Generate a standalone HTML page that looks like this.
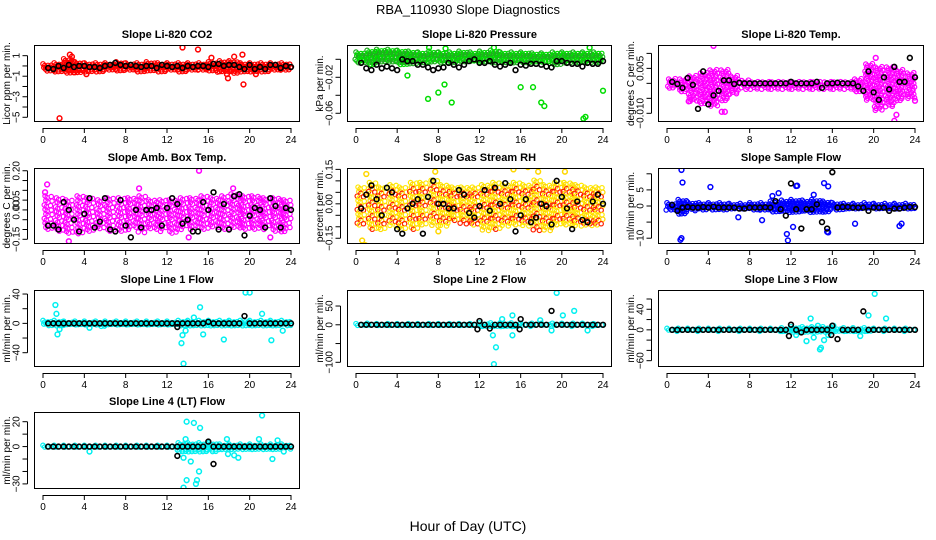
<!DOCTYPE html>
<html><head><meta charset="utf-8"><style>
html,body{margin:0;padding:0;background:#fff;}
svg{display:block;font-family:"Liberation Sans",sans-serif;}
</style></head><body>
<svg id="c" width="936" height="540" viewBox="0 0 936 540">
<text x="468" y="14" text-anchor="middle" font-size="13">RBA_110930  Slope Diagnostics</text>
<text x="468" y="531" text-anchor="middle" font-size="14">Hour of Day (UTC)</text>
</svg>
<script>
const halfHours=[0.5,1,1.5,2,2.5,3,3.5,4,4.5,5,5.5,6,6.5,7,7.5,8,8.5,9,9.5,10,10.5,11,11.5,12,12.5,13,13.5,14,14.5,15,15.5,16,16.5,17,17.5,18,18.5,19,19.5,20,20.5,21,21.5,22,22.5,23,23.5,24];
const xTicks=[0,4,8,12,16,20,24];

const co2Mean=[-0.2,-0.3,0.0,-0.2,0.1,-0.1,0.0,0.0,-0.1,-0.1,-0.2,0.0,0.1,0.3,0.1,0.0,0.1,0.0,-0.1,0.0,0.0,-0.2,0.1,0.0,-0.1,0.0,-0.2,0.0,-0.1,0.0,0.0,-0.1,0.2,0.2,0.0,0.1,0.1,-0.1,-0.3,0.1,-0.3,-0.1,-0.3,0.1,0.1,-0.2,0.0,-0.1];
const co2Lo=[-0.5,-0.6,-0.7,-0.7,-0.6,-0.6,-0.5,-0.6,-0.5,-0.6,-0.5,-0.6,-0.5,-0.6,-0.5,-0.5,-0.6,-0.6,-0.7,-0.7,-0.6,-0.6,-0.5,-0.5];
const co2Hi=[0.2,0.3,0.7,0.4,0.3,0.3,0.3,0.4,0.3,0.3,0.4,0.3,0.3,0.3,0.3,0.3,0.4,0.5,0.5,0.3,0.3,0.3,0.3,0.3];
const co2Out=[[1.6,-5.1],[2.6,1.1],[2.8,0.9],[13.5,1.8],[15,1.6],[17.8,-0.8],[17.9,-1.2],[19.4,-1.8],[19.3,1.1],[18.5,0.9],[20.6,-0.8],[4.2,-0.8],[16.3,0.8]];

const presMean=[-0.004,-0.010,-0.012,-0.006,-0.010,-0.008,-0.010,-0.012,0.000,-0.002,-0.002,-0.006,-0.006,-0.009,-0.012,-0.010,-0.009,-0.004,-0.006,-0.009,-0.006,-0.002,0.000,-0.004,-0.004,-0.002,-0.006,-0.008,-0.006,-0.004,-0.012,-0.006,-0.007,-0.005,-0.005,-0.006,-0.008,-0.009,-0.002,-0.002,-0.004,-0.005,-0.005,-0.008,-0.004,-0.005,-0.005,-0.002];
const presLo=[-0.004,-0.006,-0.004,-0.004,-0.006,-0.005,-0.004,-0.004,-0.004,-0.004,-0.003,-0.003,-0.004,-0.004,-0.004,-0.005,-0.004,-0.004,-0.004,-0.006,-0.004,-0.004,-0.004,-0.004];
const presHi=[0.008,0.010,0.011,0.011,0.010,0.009,0.008,0.009,0.008,0.008,0.009,0.008,0.009,0.010,0.008,0.008,0.008,0.007,0.007,0.008,0.008,0.008,0.008,0.008];
const presOut=[[5,-0.018],[7,-0.044],[8,-0.037],[8.6,-0.028],[9.3,-0.048],[16,-0.031],[17.2,-0.031],[18,-0.048],[18.3,-0.052],[22.1,-0.066],[22.3,-0.064],[24,-0.035],[0.4,0.0],[13.4,0.013],[22.7,0.013],[8.7,0.012],[7.1,0.013]];

const tempMean=[0.0005,-0.0002,-0.0015,0.0018,-0.0005,-0.0085,0.0040,-0.0070,-0.0040,-0.0025,0.0010,0.0010,-0.0002,0.0002,0,0,0,0,0,0,0,0,0,0.0005,0,0,0,0,0.0005,-0.0015,0,0,0.0002,0,0,0,-0.0010,-0.0025,0.0040,-0.0030,-0.0055,0.0020,-0.0020,0.0055,0.0005,0.0005,0.0085,0.0020];
const tempLo=[-0.002,-0.003,-0.006,-0.007,-0.008,-0.006,-0.004,-0.002,-0.002,-0.002,-0.002,-0.002,-0.002,-0.002,-0.002,-0.002,-0.002,-0.002,-0.003,-0.006,-0.009,-0.008,-0.006,-0.005];
const tempHi=[0.002,0.002,0.003,0.004,0.005,0.005,0.003,0.0015,0.001,0.001,0.001,0.001,0.001,0.001,0.001,0.001,0.001,0.001,0.002,0.007,0.006,0.006,0.005,0.004];
const tempOut=[[4.5,0.0125],[5.3,-0.0095],[5.6,-0.0095],[20.2,0.0085],[22,-0.0125],[22.2,-0.0105],[24,-0.0058],[2.1,-0.006]];

const ambMean=[-0.08,-0.08,-0.1,0.04,0.0,-0.05,-0.11,-0.02,0.06,-0.09,-0.06,0.06,-0.1,-0.11,0.05,-0.08,-0.14,0.0,-0.09,0.0,0.0,0.01,-0.08,0.01,0.06,0.03,-0.07,-0.05,-0.11,-0.11,0.04,0.0,0.09,-0.1,0.03,-0.1,0.07,0.08,-0.13,-0.03,0.01,0.0,-0.09,0.06,0.02,-0.09,0.01,0.0];
const ambLo=[-0.1,-0.12,-0.12,-0.13,-0.12,-0.1,-0.11,-0.12,-0.1,-0.12,-0.1,-0.11,-0.12,-0.1,-0.1,-0.1,-0.09,-0.1,-0.1,-0.11,-0.1,-0.1,-0.12,-0.11];
const ambHi=[0.08,0.07,0.06,0.08,0.07,0.06,0.07,0.07,0.07,0.08,0.06,0.06,0.06,0.07,0.07,0.08,0.07,0.08,0.09,0.08,0.08,0.07,0.07,0.06];
const ambOut=[[15.1,0.2],[2.5,-0.16],[18.4,0.11],[0.4,0.13],[9.3,0.11],[0.2,0.09],[22,-0.14],[14.1,-0.14]];

const rhMean=[-0.02,0.04,0.08,0.02,-0.05,0.07,0.05,-0.11,-0.13,-0.02,0.0,0.02,-0.13,0.03,0.1,0.0,0.0,-0.02,-0.02,0.06,0.04,-0.04,-0.06,-0.01,0.06,-0.03,0.07,0.0,0.09,0.02,-0.12,-0.05,0.02,-0.08,-0.06,0.0,-0.01,-0.09,0.1,0.03,-0.02,-0.11,0.01,-0.07,-0.08,0.01,0.04,0.0];
const rhLo=[-0.1,-0.12,-0.12,-0.1,-0.12,-0.12,-0.1,-0.1,-0.1,-0.08,-0.09,-0.1,-0.12,-0.12,-0.1,-0.1,-0.1,-0.12,-0.12,-0.1,-0.1,-0.1,-0.1,-0.1];
const rhHi=[0.08,0.1,0.08,0.09,0.08,0.1,0.1,0.11,0.09,0.08,0.08,0.08,0.09,0.1,0.09,0.1,0.09,0.11,0.09,0.1,0.1,0.09,0.08,0.08];
const rhOut=[[0.6,-0.16],[0.9,-0.18],[15.3,0.15],[20.3,0.14],[1,0.13],[17.7,0.14],[7.7,0.14],[16.7,0.16],[8,-0.12]];

const sampMean=[0.3,-1.5,-0.5,-0.3,-0.5,-0.5,-0.3,-0.5,-0.2,-0.5,-0.5,-0.5,-0.5,-0.8,-0.8,-0.5,-0.5,-0.5,-0.4,-0.5,1.5,-1.0,-3.0,7.0,-1.0,-7.0,-1.0,-1.0,0.5,-5.0,-7.0,10.5,-0.5,-0.3,-0.3,-0.5,-0.5,-0.5,-1.5,-0.5,-0.5,-0.5,-1.5,-0.8,-0.8,-0.5,-0.3,-0.3];
const sampLo=[-1.5,-2.5,-1.5,-1.2,-1.2,-1.2,-1.2,-1.2,-1.2,-1.5,-1.8,-2,-2,-2,-2,-2,-1.2,-1,-1,-1,-1,-1,-1,-1];
const sampHi=[1,2,1.2,1,1,1,0.8,0.8,1,1,1.5,1.8,2,1.8,2,1.5,1,0.8,0.8,1,0.8,0.8,0.8,0.8];
const sampOut=[[1.4,11.2],[1.3,-10.5],[1.4,-10],[1.5,7.3],[4.2,5.9],[6.9,-3.5],[9.2,-4.4],[11.6,-8.7],[11.7,-10.7],[12.6,6.3],[12.5,6.2],[15.2,7.1],[15.6,6.1],[15.5,-8],[15.6,-8.2],[18.2,-5.5],[22.5,-6.2],[22.7,-5.5],[12.2,-6.5],[10.2,3.1],[10.8,4.0],[14.2,3.5]];

const l1Mean=[0,0,0,0,0,0,0,0,0,0,0,0,0,0,0,0,0,0,0,0,0,0,0,0,0,0,0,0,0,0,0,2,0,0,0,0,0,0,10,0,0,0,0,0,0,0,0,0];
const l1Lo=[-3,-4,-3,-3,-3,-4,-3,-3,-3,-3,-3,-3,-3,-4,-4,-4,-4,-4,-4,-4,-4,-4,-4,-3];
const l1Hi=[4,4,3,3,3,3,3,3,3,3,3,3,3,4,4,4,4,4,4,4,4,4,4,4];
const l1Out=[[1.2,25],[1.3,13],[1.4,-15],[1.6,-8],[13.4,-27],[13.6,-55],[13.5,-16],[13.8,-10],[15.2,22],[15.5,-15],[17.5,-22],[19.6,42],[20,42],[21.2,13],[22.1,-23],[23.2,-10],[4.5,-6],[14.6,8]];
const l1MeanOut=[[13,-5]];

const l2Mean=[0,0,0,0,0,0,0,0,0,0,0,0,0,0,0,0,0,0,0,0,0,0,0,10,0,-10,0,0,0,0,0,15,0,0,0,0,0,37,0,0,0,0,0,0,0,0,0,0];
const l2Lo=[-3,-4,-3,-3,-3,-3,-3,-3,-3,-3,-3,-3,-5,-5,-5,-5,-4,-4,-4,-4,-4,-4,-4,-3];
const l2Hi=[3,4,3,3,3,3,3,3,3,3,3,3,5,5,5,5,4,4,4,4,4,4,4,3];
const l2Out=[[13.4,-105],[13.6,-60],[13.3,-28],[15.2,-28],[15.2,25],[14.2,15],[19.5,85],[20.1,25],[21.2,37],[22.5,-15],[19,-15],[17.9,12]];
const l2MeanOut=[[11.8,-12],[15.9,-12]];

const l3Mean=[0,0,0,0,0,0,0,0,0,0,0,0,0,0,0,0,0,0,0,0,0,0,0,10,0,-5,0,0,0,0,0,8,-18,0,0,0,0,36,0,0,0,0,0,0,0,0,0,0];
const l3Lo=[-3,-3,-3,-3,-3,-3,-3,-3,-3,-3,-3,-4,-6,-6,-6,-6,-4,-4,-4,-4,-3,-3,-3,-3];
const l3Hi=[3,3,3,3,3,3,3,3,3,3,3,4,6,6,6,6,4,4,4,4,3,3,3,3];
const l3Out=[[13.4,-80],[13.5,-22],[13.9,22],[14.2,-15],[14.8,-38],[14.9,-35],[15.2,-20],[15.6,-10],[16.1,8],[19.5,28],[20.1,70],[21.2,22],[18.7,-12],[12.5,-10],[14.6,8]];
const l3MeanOut=[[11.8,-12],[15.9,-10]];

const l4Mean=[0,0,0,0,0,0,0,0,0,0,0,0,0,0,0,0,0,0,0,0,0,0,0,0,0,0,0,0,0,0,0,4,0,0,0,0,0,0,0,0,0,0,0,0,0,0,0,0];
const l4Lo=[-1,-1,-1,-1,-1,-1,-1,-1,-1,-1,-1,-1,-1,-5,-5,-5,-4,-3,-3,-3,-3,-3,-3,-2];
const l4Hi=[1,1,1,1,1,1,1,1,1,1,1,1,1,3,3,3,3,2,2,2,2,2,2,2];
const l4Out=[[13.6,-33],[13.9,-27],[13.9,20],[14.6,19],[15.2,15],[14.3,-12],[14.8,-30],[14.9,-27],[15.1,-20],[13.6,-9],[13.8,6],[17.8,6],[17.9,-6],[18.5,-7],[18.9,-9],[21.2,25],[20.9,6],[22.2,-10],[22.7,5],[23.3,-4],[4.5,-4]];
const l4MeanOut=[[13,-7.5],[16.5,-14]];

const svg=document.getElementById('c');
const NS='http://www.w3.org/2000/svg';
function mk(tag,attrs,parent){const e=document.createElementNS(NS,tag);for(const k in attrs)e.setAttribute(k,attrs[k]);(parent||svg).appendChild(e);return e;}
const cols=[[34,300],[347,612],[658,924]];
const rows=[[45,122],[168,244],[290,367],[412,489]];

function panel(p){
  const [L,R]=cols[p.col],[T,B]=rows[p.row];
  const g=mk('g',{});
  
  
  const xs=h=>L+9+h/24*(R-L-18);
  const ys=v=>B-(v-p.ymin)/(p.ymax-p.ymin)*(B-T);
  const clip=mk('clipPath',{id:'cl'+p.name},g);
  mk('rect',{x:L,y:T,width:R-L,height:B-T},clip);
  const pg=mk('g',{'clip-path':'url(#cl'+p.name+')'},g);
  const dt=p.dt||0.16, dy=p.dy||3.6;
  for(let h=0;h<24;h++){
    const y1=ys(p.hi[h]),y0=ys(p.lo[h]);
    let k=0;
    for(let t=h+((h%2)*dt/2);t<h+1;t+=dt){
      let j=0;
      for(let y=y1+((k*1.7)%dy);y<=y0;y+=dy){
        j++;
        if(p.sparse && (k*7+j*3)%p.sparse===0) continue;
        const c=mk('circle',{cx:xs(t)+((j%3)-1)*0.8,cy:y,r:2.2,fill:'none',stroke:p.colors[(k+j)%p.colors.length],'stroke-width':1.2},pg);
        
        
      }
      k++;
    }
  }
  p.out.forEach(d=>{
    const c=mk('circle',{cx:xs(d[0]),cy:ys(d[1]),r:2.4,fill:'none',stroke:p.colors[0],'stroke-width':1.5},pg);
    
    
  });
  p.mean.forEach((v,i)=>{
    const c=mk('circle',{cx:xs(halfHours[i]),cy:ys(v),r:2.4,fill:'none',stroke:'#000','stroke-width':1.6},pg);
    
    
  });
  (p.meanOut||[]).forEach(d=>{
    const c=mk('circle',{cx:xs(d[0]),cy:ys(d[1]),r:2.4,fill:'none',stroke:'#000','stroke-width':1.6},pg);
    
    
  });
  const box=mk('rect',{x:L+0.5,y:T+0.5,width:R-L-1,height:B-T-1,fill:'none',stroke:'#000','stroke-width':1},g);
  
  
  const tt=mk('text',{x:(L+R)/2,y:T-7,'text-anchor':'middle','font-size':11,'font-weight':'bold'},g);
  tt.textContent=p.title;
  
  
  mk('line',{x1:xs(0),x2:xs(24),y1:B+6.5,y2:B+6.5,stroke:'#000'},g);
  xTicks.forEach(v=>{
    mk('line',{x1:xs(v),x2:xs(v),y1:B+6,y2:B+11,stroke:'#000'},g);
    const t=mk('text',{x:xs(v),y:B+21,'text-anchor':'middle','font-size':10},g);
    t.textContent=v;
    
    
  });
  const ax=L-6.5;
  mk('line',{x1:ax,x2:ax,y1:ys(p.ticks[0]),y2:ys(p.ticks[p.ticks.length-1]),stroke:'#000'},g);
  p.ticks.forEach((v,i)=>{
    mk('line',{x1:ax-5,x2:ax,y1:ys(v),y2:ys(v),stroke:'#000'},g);
    if(p.labels[i]){
      const t=mk('text',{x:0,y:0,'text-anchor':'middle','font-size':10,transform:`translate(${ax-8},${ys(v)}) rotate(-90)`},g);
      t.textContent=p.labels[i];
      
      
    }
  });
  const yl=mk('text',{x:0,y:0,'text-anchor':'middle','font-size':10,transform:`translate(${L-24},${(T+B)/2}) rotate(-90)`},g);
  yl.textContent=p.ylab;
  
  
}
const cyan=['#00f0f0'];
panel({name:'co2',col:0,row:0,title:'Slope Li-820 CO2',ylab:'Licor ppm per min.',ymin:-5.46,ymax:2.04,ticks:[1,0,-1,-2,-3,-4,-5],labels:['1','','\u22121','','\u22123','','\u22125'],colors:['#ff0000'],mean:co2Mean,lo:co2Lo,hi:co2Hi,out:co2Out});
panel({name:'pressure',col:1,row:0,title:'Slope Li-820 Pressure',ylab:'kPa per min.',ymin:-0.0697,ymax:0.0159,ticks:[0,-0.02,-0.04,-0.06],labels:['','\u22120.02','','\u22120.06'],colors:['#00dd00','#22aa22'],mean:presMean,lo:presLo,hi:presHi,out:presOut});
panel({name:'temp',col:2,row:0,title:'Slope Li-820 Temp.',ylab:'degrees C per min.',ymin:-0.0129,ymax:0.0128,ticks:[0.01,0.005,0,-0.005,-0.01],labels:['','0.005','','','\u22120.010'],colors:['#ff00ff'],mean:tempMean,lo:tempLo,hi:tempHi,out:tempOut,sparse:3});
panel({name:'ambbox',col:0,row:1,title:'Slope Amb. Box Temp.',ylab:'degrees C per min.',ymin:-0.174,ymax:0.214,ticks:[0.2,0.15,0.1,0.05,0,-0.05,-0.1,-0.15],labels:['0.20','','','0.05','0.00','','','\u22120.15'],colors:['#ff00ff'],mean:ambMean,lo:ambLo,hi:ambHi,out:ambOut,dt:0.2,dy:4.5,sparse:3});
panel({name:'rh',col:1,row:1,title:'Slope Gas Stream RH',ylab:'percent per min.',ymin:-0.175,ymax:0.156,ticks:[0.15,0.1,0.05,0,-0.05,-0.1,-0.15],labels:['0.15','','','0.00','','','\u22120.15'],colors:['#ffd700','#ff2000','#ffe800'],mean:rhMean,lo:rhLo,hi:rhHi,out:rhOut,dt:0.2,dy:4.5,sparse:3});
panel({name:'sampleflow',col:2,row:1,title:'Slope Sample Flow',ylab:'ml/min per min.',ymin:-11.8,ymax:11.8,ticks:[10,5,0,-5,-10],labels:['','5','0','','\u221210'],colors:['#0000ff'],mean:sampMean,lo:sampLo,hi:sampHi,out:sampOut});
panel({name:'line1',col:0,row:2,title:'Slope Line 1 Flow',ylab:'ml/min per min.',ymin:-59.5,ymax:45.5,ticks:[40,20,0,-20,-40],labels:['40','','0','','\u221240'],colors:cyan,mean:l1Mean,lo:l1Lo,hi:l1Hi,out:l1Out,meanOut:l1MeanOut});
panel({name:'line2',col:1,row:2,title:'Slope Line 2 Flow',ylab:'ml/min per min.',ymin:-112.5,ymax:92.7,ticks:[50,0,-50,-100],labels:['50','0','','\u2212100'],colors:cyan,mean:l2Mean,lo:l2Lo,hi:l2Hi,out:l2Out,meanOut:l2MeanOut});
panel({name:'line3',col:2,row:2,title:'Slope Line 3 Flow',ylab:'ml/min per min.',ymin:-72.3,ymax:77.5,ticks:[60,40,20,0,-20,-40,-60],labels:['','40','','0','','','\u221260'],colors:cyan,mean:l3Mean,lo:l3Lo,hi:l3Hi,out:l3Out,meanOut:l3MeanOut});
panel({name:'line4',col:0,row:3,title:'Slope Line 4 (LT) Flow',ylab:'ml/min per min.',ymin:-34.1,ymax:27.8,ticks:[20,10,0,-10,-20,-30],labels:['20','','0','','','\u221230'],colors:cyan,mean:l4Mean,lo:l4Lo,hi:l4Hi,out:l4Out,meanOut:l4MeanOut});
</script>
</body></html>
